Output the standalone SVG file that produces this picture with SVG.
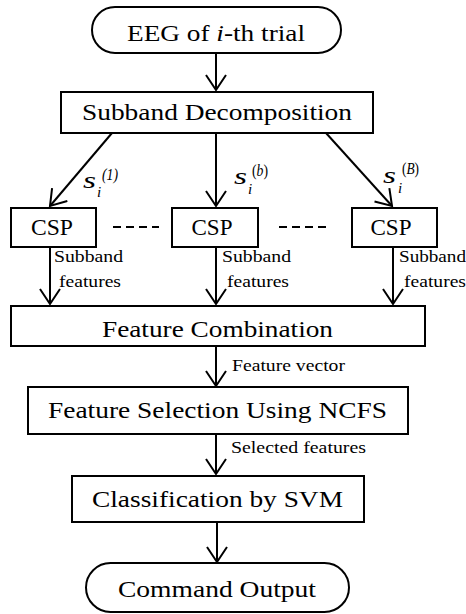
<svg xmlns="http://www.w3.org/2000/svg" width="466" height="614" viewBox="0 0 466 614">
<defs>
<style>
.box{fill:#fff;stroke:#000;stroke-width:2}
.t{font-family:'Liberation Serif',serif;font-size:24px;fill:#000;text-anchor:middle}
.s{font-family:'Liberation Serif',serif;font-size:16px;fill:#000}
.m{font-family:'Liberation Serif',serif;font-style:italic;fill:#000}
.c{fill:none;stroke:#000;stroke-width:2}
</style>
<marker id="ah" viewBox="-16 -11 18 22" refX="0" refY="0" markerWidth="18" markerHeight="22" markerUnits="userSpaceOnUse" orient="auto">
<path d="M-15,-10 L0,0 L-15,10" fill="none" stroke="#000" stroke-width="2"/>
</marker>
</defs>
<rect width="466" height="614" fill="#fff"/>

<g id="connectors">
<line class="c" x1="216" y1="53" x2="216" y2="90" marker-end="url(#ah)"/>
<line class="c" x1="112" y1="133" x2="50" y2="206" marker-end="url(#ah)"/>
<line class="c" x1="216" y1="133" x2="216" y2="206" marker-end="url(#ah)"/>
<line class="c" x1="326" y1="133" x2="392" y2="206" marker-end="url(#ah)"/>
<line class="c" x1="50" y1="247" x2="50" y2="304" marker-end="url(#ah)"/>
<line class="c" x1="216" y1="247" x2="216" y2="304" marker-end="url(#ah)"/>
<line class="c" x1="393" y1="247" x2="393" y2="304" marker-end="url(#ah)"/>
<line class="c" x1="216" y1="346" x2="216" y2="386" marker-end="url(#ah)"/>
<line class="c" x1="216" y1="434" x2="216" y2="474" marker-end="url(#ah)"/>
<line class="c" x1="217" y1="522" x2="217" y2="562" marker-end="url(#ah)"/>
<line class="c" x1="113" y1="227" x2="159" y2="227" stroke-dasharray="8,5"/>
<line class="c" x1="279" y1="227" x2="326" y2="227" stroke-dasharray="8,5"/>
<text class="s" x="54" y="262" textLength="69" lengthAdjust="spacingAndGlyphs">Subband</text>
<text class="s" x="59" y="287" textLength="62" lengthAdjust="spacingAndGlyphs">features</text>
<text class="s" x="222" y="262" textLength="69" lengthAdjust="spacingAndGlyphs">Subband</text>
<text class="s" x="227" y="287" textLength="62" lengthAdjust="spacingAndGlyphs">features</text>
<text class="s" x="399" y="262" textLength="67" lengthAdjust="spacingAndGlyphs">Subband</text>
<text class="s" x="404" y="287" textLength="62" lengthAdjust="spacingAndGlyphs">features</text>
<text class="s" x="232" y="371" textLength="113" lengthAdjust="spacingAndGlyphs">Feature vector</text>
<text class="s" x="231" y="453" textLength="135" lengthAdjust="spacingAndGlyphs">Selected features</text>
<text class="m" x="83" y="188" font-size="24" textLength="13" lengthAdjust="spacingAndGlyphs">s</text>
<text class="m" x="97" y="197" font-size="15">i</text>
<text class="m" x="102" y="180" font-size="16" font-style="normal" textLength="16" lengthAdjust="spacingAndGlyphs">(1)</text>
<text class="m" x="234" y="184" font-size="24" textLength="13" lengthAdjust="spacingAndGlyphs">s</text>
<text class="m" x="248" y="194" font-size="15">i</text>
<text class="m" x="252" y="176" font-size="16" textLength="16" lengthAdjust="spacingAndGlyphs"><tspan font-style="normal">(</tspan>b<tspan font-style="normal">)</tspan></text>
<text class="m" x="383" y="183" font-size="24" textLength="13" lengthAdjust="spacingAndGlyphs">s</text>
<text class="m" x="398" y="193" font-size="15">i</text>
<text class="m" x="402" y="174" font-size="16" textLength="17" lengthAdjust="spacingAndGlyphs"><tspan font-style="normal">(</tspan>B<tspan font-style="normal">)</tspan></text>
</g>

<g id="n-eeg">
<rect class="box" x="92" y="7" width="249" height="46" rx="23" ry="23"/>
<text class="t" x="216" y="41" textLength="178" lengthAdjust="spacingAndGlyphs">EEG of <tspan font-style="italic">i</tspan>-th trial</text>
</g>
<g id="n-subband">
<rect class="box" x="61" y="92" width="312" height="41"/>
<text class="t" x="217" y="120" textLength="270" lengthAdjust="spacingAndGlyphs">Subband Decomposition</text>
</g>
<g id="n-csp1">
<rect class="box" x="11" y="208" width="85" height="39"/>
<text class="t" x="52" y="235" textLength="42" lengthAdjust="spacingAndGlyphs">CSP</text>
</g>
<g id="n-csp2">
<rect class="box" x="172" y="208" width="86" height="39"/>
<text class="t" x="212" y="235" textLength="41" lengthAdjust="spacingAndGlyphs">CSP</text>
</g>
<g id="n-csp3">
<rect class="box" x="352" y="208" width="85" height="39"/>
<text class="t" x="391" y="235" textLength="41" lengthAdjust="spacingAndGlyphs">CSP</text>
</g>
<g id="n-combo">
<rect class="box" x="11" y="306" width="414" height="40"/>
<text class="t" x="217.5" y="337" textLength="231" lengthAdjust="spacingAndGlyphs">Feature Combination</text>
</g>
<g id="n-select">
<rect class="box" x="28" y="387" width="380" height="47"/>
<text class="t" x="217.5" y="418" textLength="339" lengthAdjust="spacingAndGlyphs">Feature Selection Using NCFS</text>
</g>
<g id="n-svm">
<rect class="box" x="72" y="476" width="292" height="46"/>
<text class="t" x="217.5" y="507" textLength="251" lengthAdjust="spacingAndGlyphs">Classification by SVM</text>
</g>
<g id="n-output">
<rect class="box" x="86" y="563" width="263" height="49" rx="24.5" ry="24.5"/>
<text class="t" x="217" y="597" textLength="198" lengthAdjust="spacingAndGlyphs">Command Output</text>
</g>
</svg>
